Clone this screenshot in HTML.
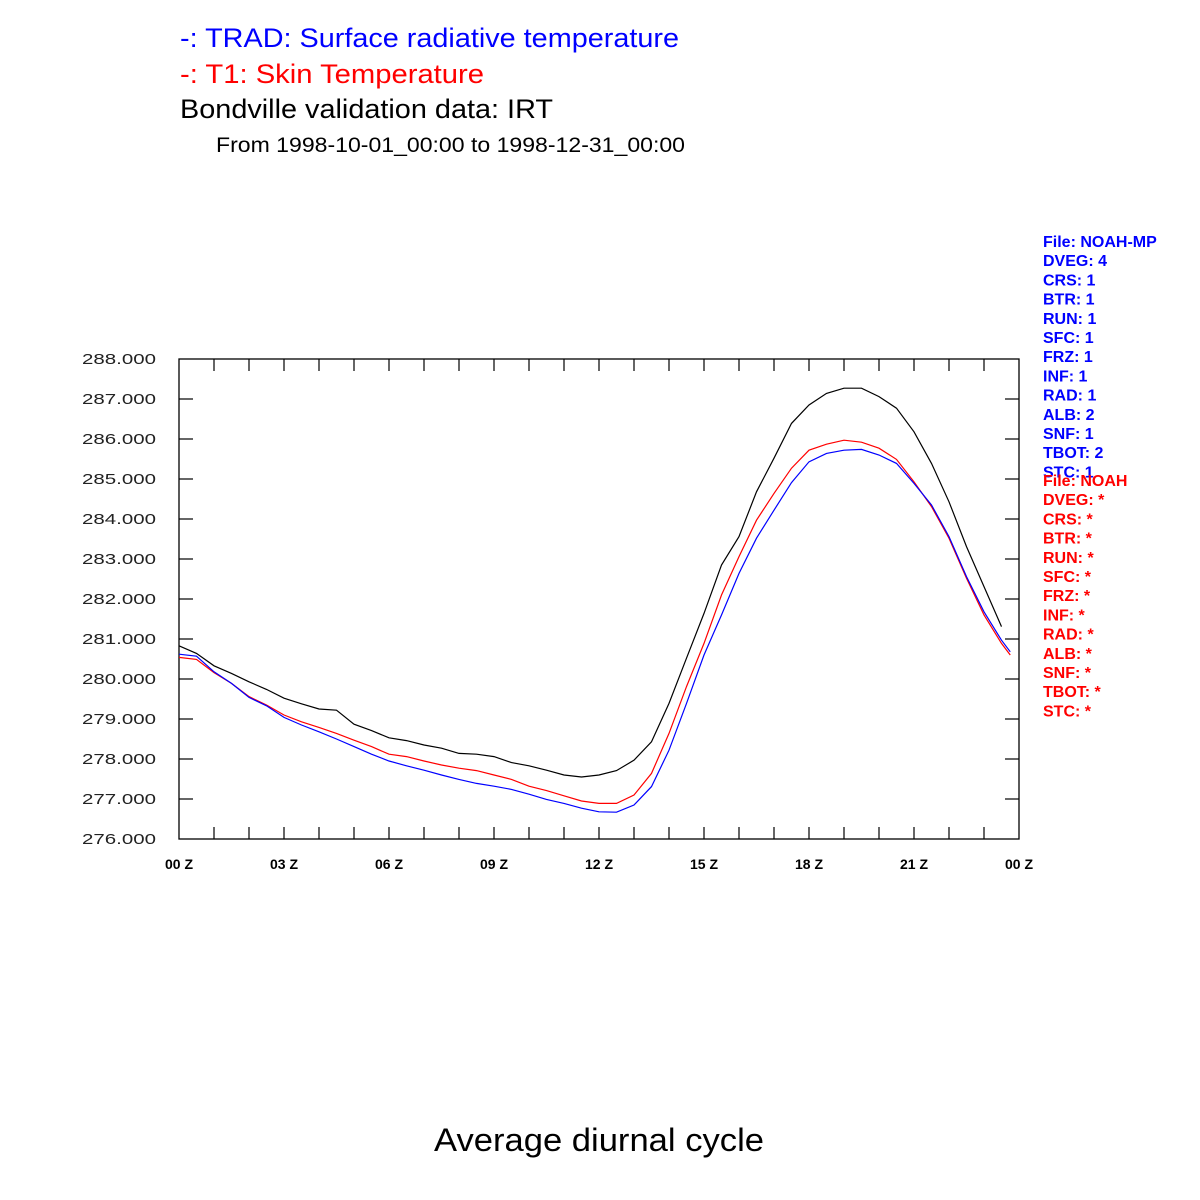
<!DOCTYPE html>
<html><head><meta charset="utf-8"><style>
html,body{margin:0;padding:0;background:#fff}
svg{display:block}
text{font-family:"Liberation Sans",sans-serif}
</style></head><body>
<svg id="chart" width="1200" height="1200" viewBox="0 0 1200 1200" xmlns="http://www.w3.org/2000/svg">
<rect width="1200" height="1200" fill="#fff"/>
<text x="180" y="47" font-size="27" fill="#0000ff" textLength="499" lengthAdjust="spacingAndGlyphs">-: TRAD: Surface radiative temperature</text>
<text x="180" y="83" font-size="27" fill="#ff0000" textLength="304" lengthAdjust="spacingAndGlyphs">-: T1: Skin Temperature</text>
<text x="180" y="118" font-size="27" fill="#000" textLength="373" lengthAdjust="spacingAndGlyphs">Bondville validation data: IRT</text>
<text x="216" y="152" font-size="21" fill="#000" textLength="469" lengthAdjust="spacingAndGlyphs">From 1998-10-01_00:00 to 1998-12-31_00:00</text>
<text x="599" y="1151" font-size="32" fill="#000" text-anchor="middle" textLength="330" lengthAdjust="spacingAndGlyphs">Average diurnal cycle</text>
<g id="axes"></g>
<g id="series"></g>
<g id="legend"></g>
</svg>
<script>
const hours = [0,0.5,1,1.5,2,2.5,3,3.5,4,4.5,5,5.5,6,6.5,7,7.5,8,8.5,9,9.5,10,10.5,11,11.5,12,12.5,13,13.5,14,14.5,15,15.5,16,16.5,17,17.5,18,18.5,19,19.5,20,20.5,21,21.5,22,22.5,23,23.5];
const hoursModel = hours.concat([23.75]);
const obsIRT = [280.83,280.64,280.33,280.14,279.93,279.74,279.52,279.38,279.25,279.22,278.87,278.71,278.53,278.46,278.35,278.27,278.14,278.12,278.06,277.91,277.83,277.72,277.6,277.55,277.6,277.71,277.97,278.43,279.39,280.52,281.64,282.85,283.56,284.68,285.52,286.39,286.85,287.14,287.27,287.27,287.06,286.77,286.18,285.39,284.43,283.31,282.31,281.31];
const t1Skin = [280.54,280.49,280.16,279.89,279.56,279.35,279.1,278.93,278.79,278.64,278.47,278.31,278.12,278.06,277.95,277.85,277.77,277.71,277.6,277.49,277.32,277.21,277.08,276.95,276.89,276.89,277.1,277.64,278.64,279.81,280.89,282.1,283.06,283.97,284.64,285.27,285.72,285.87,285.97,285.92,285.77,285.49,284.93,284.31,283.52,282.52,281.6,280.89,280.6];
const tradSurf = [280.62,280.57,280.18,279.89,279.54,279.33,279.04,278.85,278.68,278.5,278.31,278.12,277.95,277.83,277.72,277.6,277.49,277.39,277.32,277.24,277.12,276.99,276.89,276.77,276.68,276.67,276.85,277.31,278.22,279.39,280.6,281.6,282.64,283.52,284.22,284.91,285.43,285.64,285.72,285.74,285.6,285.39,284.89,284.35,283.56,282.56,281.68,280.97,280.68];
const yTicks = [276,277,278,279,280,281,282,283,284,285,286,287,288];
const xTickHours = [0,3,6,9,12,15,18,21,24];
const xTickLabels = ["00 Z","03 Z","06 Z","09 Z","12 Z","15 Z","18 Z","21 Z","00 Z"];
const legendBlue = ["File: NOAH-MP","DVEG: 4","CRS: 1","BTR: 1","RUN: 1","SFC: 1","FRZ: 1","INF: 1","RAD: 1","ALB: 2","SNF: 1","TBOT: 2","STC: 1"];
const legendRed = ["File: NOAH","DVEG: *","CRS: *","BTR: *","RUN: *","SFC: *","FRZ: *","INF: *","RAD: *","ALB: *","SNF: *","TBOT: *","STC: *"];

const NS = "http://www.w3.org/2000/svg";
const X0 = 179, X1 = 1019, Y0 = 839, Y1 = 359;
const xs = h => X0 + (h / 24) * (X1 - X0);
const ys = v => Y0 - (v - 276) / 12 * (Y0 - Y1);
function mk(tag, attrs, parent) {
  const e = document.createElementNS(NS, tag);
  for (const k in attrs) e.setAttribute(k, attrs[k]);
  parent.appendChild(e);
  return e;
}
const axes = document.getElementById('axes');
const frame = mk('rect', {x: X0, y: Y1, width: X1 - X0, height: Y0 - Y1, fill: 'none', stroke: '#000', 'stroke-width': 1.3}, axes);


for (let h = 1; h < 24; h++) {
  const x = xs(h);
  const t1 = mk('line', {x1: x, x2: x, y1: Y0, y2: Y0 - 12, stroke: '#000', 'stroke-width': 1.2}, axes);
  
  
  const t2 = mk('line', {x1: x, x2: x, y1: Y1, y2: Y1 + 12, stroke: '#000', 'stroke-width': 1.2}, axes);
  
  
}
xTickHours.forEach((h, i) => {
  const t = mk('text', {x: xs(h), y: 869, 'font-size': 14, 'font-weight': 'bold', 'text-anchor': 'middle', fill: '#000'}, axes);
  t.textContent = xTickLabels[i];
  
  
});
yTicks.forEach(v => {
  const y = ys(v);
  if (v > 276 && v < 288) {
    const a = mk('line', {x1: X0, x2: X0 + 14, y1: y, y2: y, stroke: '#000', 'stroke-width': 1.2}, axes);
    
    
    const b = mk('line', {x1: X1, x2: X1 - 14, y1: y, y2: y, stroke: '#000', 'stroke-width': 1.2}, axes);
    
    
  }
  const t = mk('text', {x: 156, y: y + 5, 'font-size': 15, 'text-anchor': 'end', fill: '#222', 'font-family': '"Liberation Mono", monospace', textLength: 74, lengthAdjust: 'spacingAndGlyphs'}, axes);
  t.textContent = v.toFixed(3);
  
  
});
const series = document.getElementById('series');
function line(hs, vals, color, name) {
  const pts = vals.map((v, i) => xs(hs[i]).toFixed(2) + ',' + ys(v).toFixed(2)).join(' ');
  const p = mk('polyline', {points: pts, fill: 'none', stroke: color, 'stroke-width': 1.2}, series);
  
  
}
line(hours, obsIRT, '#000', 'obs-irt-line');
line(hoursModel, t1Skin, '#ff0000', 't1-skin-line');
line(hoursModel, tradSurf, '#0000ff', 'trad-line');
const legend = document.getElementById('legend');
legendBlue.forEach((s, i) => {
  const t = mk('text', {x: 1043, y: 247 + i * 19.2, 'font-size': 16, 'font-weight': 'bold', fill: '#0000ff'}, legend);
  t.textContent = s;
  
  
});
legendRed.forEach((s, i) => {
  const t = mk('text', {x: 1043, y: 486 + i * 19.2, 'font-size': 16, 'font-weight': 'bold', fill: '#ff0000'}, legend);
  t.textContent = s;
  
  
});
</script>
</body></html>
